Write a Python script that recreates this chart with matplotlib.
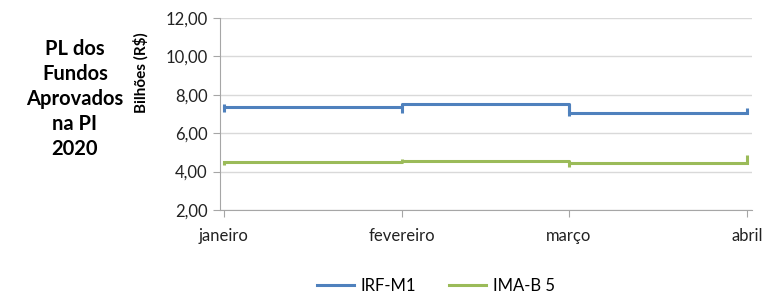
import numpy as np
import matplotlib
matplotlib.use('Agg')
import matplotlib.pyplot as plt
import matplotlib.dates as mdates
from matplotlib.ticker import FuncFormatter
import datetime as dt

plt.rcParams['font.family'] = ['Lato', 'DejaVu Sans']

# dados
meses = ['janeiro', 'fevereiro', 'março', 'abril']
datas = [dt.date(2020, 1, 1), dt.date(2020, 2, 1), dt.date(2020, 3, 1), dt.date(2020, 4, 1)]

# nível de cada mês (R$ bilhões)
irf_nivel = [7.38, 7.52, 7.03]
ima_nivel = [4.52, 4.57, 4.47]

# variação no dia da virada de mês (mín / máx)
irf_min = [7.12, 7.05, 6.92, 7.03]
irf_max = [7.52, 7.52, 7.52, 7.32]
ima_min = [4.34, 4.52, 4.26, 4.47]
ima_max = [4.52, 4.66, 4.57, 4.86]

azul = '#4F81BD'
verde = '#9BBB59'

fig = plt.figure(figsize=(7.69, 2.95), dpi=100)
ax = fig.add_axes([220/769, 1 - 210/295, 532/769, 192/295])

x = mdates.date2num(datas)
ax.step(x, irf_nivel + [irf_nivel[-1]], where='post', color=azul, lw=2.2, label='IRF-M1')
ax.vlines(x, irf_min, irf_max, color=azul, lw=2.2)
ax.step(x, ima_nivel + [ima_nivel[-1]], where='post', color=verde, lw=2.2, label='IMA-B 5')
ax.vlines(x, ima_min, ima_max, color=verde, lw=2.2)

ax.set_xlim(x[0] - 0.7, x[-1] + 0.9)
ax.set_ylim(2, 12)
ax.set_yticks(np.arange(2, 13, 2))
ax.yaxis.set_major_formatter(FuncFormatter(lambda v, p: f'{v:.2f}'.replace('.', ',')))
ax.set_xticks(x)
ax.set_xticklabels(meses)

ax.grid(axis='y', color='#d9d9d9', lw=1)
ax.set_axisbelow(True)
for s in ['top', 'right']:
    ax.spines[s].set_visible(False)
for s in ['left', 'bottom']:
    ax.spines[s].set_color('#a6a6a6')
ax.tick_params(axis='both', colors='#a6a6a6', labelcolor='#222222', labelsize=12, length=5)
ax.tick_params(axis='y', pad=4)
ax.tick_params(axis='x', pad=8)

fig.text(141/769, 1 - 73/295, 'Bilhões (R$)', rotation=90, ha='center', va='center',
         fontsize=11, fontweight='bold')
fig.text(75/769, 1 - 99/295, 'PL dos\nFundos\nAprovados\nna PI\n2020', ha='center', va='center',
         fontsize=14.5, fontweight='bold', linespacing=1.3)

fig.legend(loc='center', bbox_to_anchor=(0.567, 1 - 286/295), ncol=2, frameon=False,
           fontsize=12, handlelength=2.2, handletextpad=0.4, columnspacing=2.0)

fig.savefig('out.png', dpi=100)
